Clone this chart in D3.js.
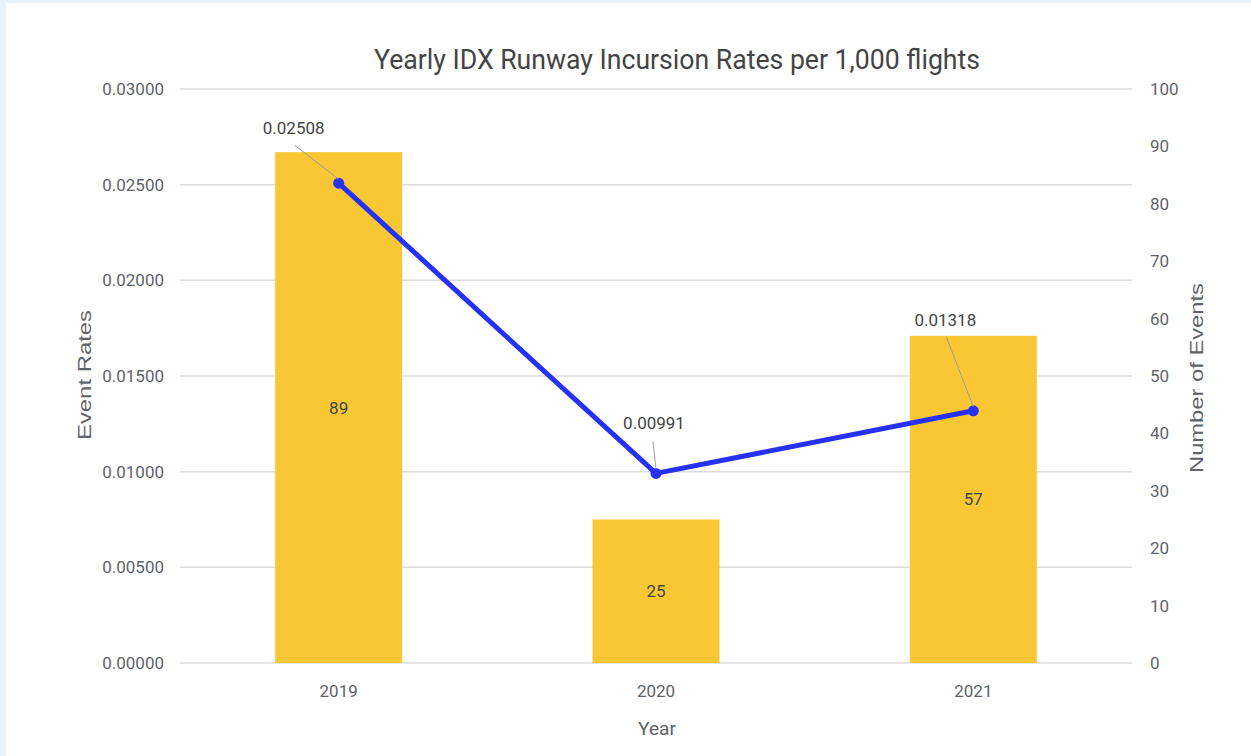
<!DOCTYPE html>
<html><head><meta charset="utf-8">
<script src="https://cdn.jsdelivr.net/npm/d3@7"></script>
<style>
html,body{margin:0;padding:0;background:#eaf2fb;}
svg{display:block;}
</style></head>
<body>
<svg id="c" width="1251" height="756"></svg>
<script>
const years = ["2019", "2020", "2021"];
const eventCounts = [89, 25, 57];
const eventRates = [0.02508, 0.00991, 0.01318];
const rateLabels = ["0.02508", "0.00991", "0.01318"];
const leftTicks = [0, 0.005, 0.01, 0.015, 0.02, 0.025, 0.03];
const rightTicks = [0, 10, 20, 30, 40, 50, 60, 70, 80, 90, 100];

const svg = d3.select("#c");
svg.append("rect").attr("x", 6).attr("y", 3).attr("width", 1245).attr("height", 753).attr("fill", "#fff");

const m = {l: 180, r: 1132, t: 89, b: 663};
const x = d3.scaleBand().domain(years).range([m.l, m.r]).paddingInner(0.6).paddingOuter(0.3);
const yL = d3.scaleLinear().domain([0, 0.03]).range([m.b, m.t]);
const yR = d3.scaleLinear().domain([0, 100]).range([m.b, m.t]);

const tickColor = "#5f6368";
const fs = 17;
// gridlines
svg.append("g").selectAll("line").data(leftTicks).join("line")
  .attr("x1", m.l).attr("x2", m.r)
  .attr("y1", d => yL(d)).attr("y2", d => yL(d))
  .attr("stroke", "#dcdcdc").attr("stroke-width", 1.5);

// left axis
const gL = svg.append("g").attr("transform", `translate(${m.l},0)`)
  .call(d3.axisLeft(yL).tickValues(leftTicks).tickFormat(d3.format(".5f")).tickSize(0).tickPadding(16));
gL.select(".domain").remove();
gL.selectAll("text").attr("font-family", "Roboto").attr("font-size", fs).attr("fill", tickColor);

// right axis
const gR = svg.append("g").attr("transform", `translate(${m.r},0)`)
  .call(d3.axisRight(yR).tickValues(rightTicks).tickSize(0).tickPadding(18));
gR.select(".domain").remove();
gR.selectAll("text").attr("font-family", "Roboto").attr("font-size", fs).attr("fill", tickColor);

// x axis
const gX = svg.append("g").attr("transform", `translate(0,${m.b})`)
  .call(d3.axisBottom(x).tickSize(0).tickPadding(22));
gX.select(".domain").remove();
gX.selectAll("text").attr("font-family", "Roboto").attr("font-size", fs).attr("fill", tickColor);

// bars
svg.append("g").selectAll("rect").data(years).join("rect")
  .attr("x", d => x(d)).attr("width", x.bandwidth())
  .attr("y", (d, i) => yR(eventCounts[i]))
  .attr("height", (d, i) => yR(0) - yR(eventCounts[i]))
  .attr("fill", "#f9c733");

// bar labels
svg.append("g").selectAll("text").data(years).join("text")
  .attr("x", d => x(d) + x.bandwidth() / 2)
  .attr("y", (d, i) => (yR(eventCounts[i]) + yR(0)) / 2)
  .attr("dy", "0.35em").attr("text-anchor", "middle")
  .attr("font-family", "Roboto").attr("font-size", fs).attr("fill", "#444")
  .text((d, i) => eventCounts[i]);

// line
const cx = d => x(d) + x.bandwidth() / 2;
const line = d3.line().x((d, i) => cx(years[i])).y(d => yL(d));
svg.append("path").datum(eventRates).attr("d", line)
  .attr("fill", "none").attr("stroke", "#2631f5").attr("stroke-width", 5).attr("stroke-linejoin", "round");
svg.append("g").selectAll("circle").data(eventRates).join("circle")
  .attr("cx", (d, i) => cx(years[i])).attr("cy", d => yL(d)).attr("r", 5.5)
  .attr("fill", "#2631f5");

// rate labels with leader lines
const labelOffsets = [[-45, -55, -44, -38], [-2, -50, -3, -32], [-28, -91, -27, -74]];
rateLabels.forEach((lab, i) => {
  const px = cx(years[i]), py = yL(eventRates[i]);
  const o = labelOffsets[i];
  svg.append("line").attr("x1", px).attr("y1", py - 4).attr("x2", px + o[2]).attr("y2", py + o[3])
    .attr("stroke", "#9e9e9e").attr("stroke-width", 1);
  svg.append("text").attr("x", px + o[0]).attr("y", py + o[1])
    .attr("text-anchor", "middle").attr("dy", "0.35em")
    .attr("font-family", "Roboto").attr("font-size", fs).attr("fill", "#444").text(lab);
});

// title
svg.append("text").attr("x", 677).attr("y", 69).attr("text-anchor", "middle")
  .attr("font-family", "Roboto").attr("font-size", 28).attr("fill", "#444")
  .attr("textLength", 606).attr("lengthAdjust", "spacingAndGlyphs")
  .text("Yearly IDX Runway Incursion Rates per 1,000 flights");

// axis titles
svg.append("text").attr("transform", "translate(91,375) rotate(-90)").attr("text-anchor", "middle")
  .attr("font-family", "Liberation Sans").attr("font-size", 19).attr("fill", tickColor)
  .attr("textLength", 130).attr("lengthAdjust", "spacingAndGlyphs").text("Event Rates");
svg.append("text").attr("transform", "translate(1203,378) rotate(-90)").attr("text-anchor", "middle")
  .attr("font-family", "Liberation Sans").attr("font-size", 19).attr("fill", tickColor)
  .attr("textLength", 190).attr("lengthAdjust", "spacingAndGlyphs").text("Number of Events");
svg.append("text").attr("x", 657).attr("y", 735).attr("text-anchor", "middle")
  .attr("font-family", "Roboto").attr("font-size", 19).attr("fill", tickColor)
  .attr("textLength", 38).attr("lengthAdjust", "spacingAndGlyphs").text("Year");
</script>
</body></html>
